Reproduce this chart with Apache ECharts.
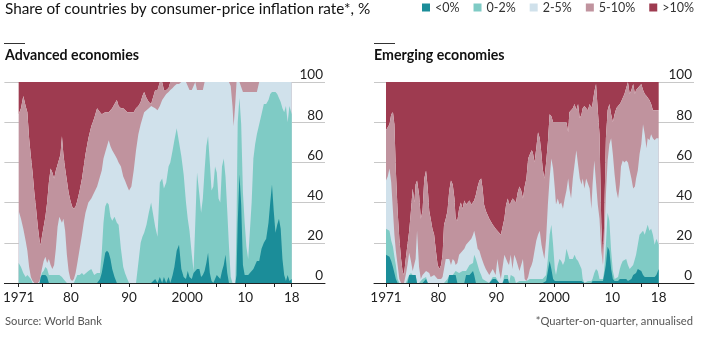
<!DOCTYPE html>
<html><head><meta charset="utf-8">
<script src="https://cdn.jsdelivr.net/npm/echarts@6/dist/echarts.min.js"></script>
<style>html,body{margin:0;padding:0;background:#fff}#c{width:724px;height:355px}</style>
</head><body><div id="c"></div>
<script>
// ---- data: cumulative share of countries (%) whose inflation is below each threshold ----
const categories = ['<0%', '0-2%', '2-5%', '5-10%', '>10%'];

const tickYears = [1971, 1975, 1980, 1985, 1990, 1995, 2000, 2005, 2010, 2015, 2018];
const labelYears = [1971, 1980, 1990, 2000, 2010, 2018];
const labelTexts = ['1971', '80', '90', '2000', '10', '18'];

// Advanced economies
const advYears = [1971.0,1971.4,1971.8,1972.2,1972.5,1972.8,1973.1,1973.4,1973.7,1974.0,
1974.3,1974.6,1974.8,1975.0,1975.3,1975.6,1975.9,1976.2,1976.5,1976.8,
1977.1,1977.4,1977.7,1978.0,1978.2,1978.45,1978.7,1979.0,1979.3,1979.6,
1979.9,1980.2,1980.5,1980.8,1981.1,1981.5,1981.9,1982.2,1982.5,1983.0,
1983.5,1984.0,1984.5,1985.0,1985.3,1985.6,1985.9,1986.2,1986.5,1986.8,
1987.1,1987.5,1987.9,1988.2,1988.6,1989.0,1989.3,1989.7,1990.0,1990.4,
1990.8,1991.2,1991.6,1992.0,1992.3,1992.6,1993.0,1993.4,1993.8,1994.1,
1994.5,1994.9,1995.3,1995.7,1996.0,1996.4,1996.8,1997.1,1997.5,1997.8,
1998.2,1998.6,1999.0,1999.4,1999.8,2000.1,2000.4,2000.8,2001.1,2001.4,
2001.7,2002.1,2002.4,2002.7,2003.0,2003.3,2003.6,2003.9,2004.2,2004.5,
2004.8,2005.1,2005.4,2005.7,2006.0,2006.3,2006.6,2006.9,2007.2,2007.5,
2007.8,2008.0,2008.3,2008.5,2008.7,2009.0,2009.3,2009.6,2009.9,2010.2,
2010.5,2010.8,2011.1,2011.4,2011.7,2012.0,2012.4,2012.8,2013.2,2013.6,
2014.0,2014.3,2014.6,2014.9,2015.2,2015.5,2015.8,2016.1,2016.4,2016.7,
2017.0,2017.3,2017.6,2018.0];
const advBelow0 = [0,0,0,0,0,0,0,0,0,0,
0,0,3,4,4,4,3,0,0,0,
0,0,0,0,0,0,0,0,0,0,
0,0,0,0,0,0,0,0,0,0,
0,0,0,2,5,10,15,16,15,12,
7,3,0,0,0,0,0,0,0,0,
0,0,0,0,0,0,0,0,0,0,
2,0,3,0,3,0,3,0,4,8,
16,19,7,3,2,6,3,2,5,6,
7,7,3,4,6,10,15,5,1,0,
2,4,3,2,6,9,14,5,0,0,
0,0,0,4,30,54,39,9,4,4,
4,4,6,7,9,11,11,17,20,22,
30,40,49,36,25,29,32,27,12,4,
1,4,1,2];
const advBelow2 = [10,8,5,3,4,4,2,0,0,0,
0,0,3,5,6,8,7,4,4,4,
4,4,4,4,4,3,2,1,0,0,
0,0,0,2,4,4,5,4,4,6,
7,4,5,5,15,30,38,40,39,33,
31,33,30,29,17,8,5,2,0,0,
0,0,10,20,23,25,29,35,40,40,
28,23,50,52,47,50,58,60,66,71,
77,70,63,54,40,32,26,14,6,30,
55,44,35,42,56,68,73,60,46,48,
58,55,42,40,58,62,53,36,18,3,
0,0,0,30,80,92,79,45,30,18,
12,12,40,62,69,74,79,84,89,89,
91,94,95,95,95,94,92,90,87,85,
88,80,88,84];
const advBelow5 = [36,32,27,21,16,8,3,1,0,0,
0,1,4,7,11,13,10,12,9,7,
9,17,28,33,33,30,32,26,14,6,
2,1,2,5,10,17,24,30,35,40,
42,45,48,53,56,62,65,68,71,68,
66,64,62,60,58,53,51,48,46,48,
56,66,74,79,82,85,86,87,88,88,
87,86,88,91,91,94,95,96,97,98,
99,99,100,100,100,100,96,96,96,100,
96,96,96,96,100,100,100,100,100,100,
100,100,100,100,100,100,100,100,100,98,
88,78,90,100,100,100,100,95,95,95,
95,95,95,95,95,95,100,100,100,100,
100,100,100,100,100,100,100,100,100,100,
100,100,100,100];
const advBelow10 = [84,87,93,88,85,72,63,55,45,37,
28,21,19,23,28,33,40,50,57,55,
52,56,59,62,64,73,64,57,51,45,
41,38,37,38,41,46,52,58,64,72,
78,82,87,85,84,84,85,85,85,86,
87,89,91,88,87,87,87,85,85,85,
85,87,88,90,93,95,92,90,89,92,
96,96,100,100,96,96,97,100,100,100,
100,100,100,100,100,100,100,100,100,100,
100,100,100,100,100,100,100,100,100,100,
100,100,100,100,100,100,100,100,100,100,
100,100,100,100,100,100,100,100,100,100,
100,100,100,100,100,100,100,100,100,100,
100,100,100,100,100,100,100,100,100,100,
100,100,100,100];

// Emerging economies
const emYears = [1971.0,1971.3,1971.6,1971.9,1972.2,1972.45,1972.7,1973.0,1973.3,1973.6,
1973.85,1974.1,1974.4,1974.7,1975.0,1975.3,1975.6,1975.9,1976.1,1976.35,
1976.7,1977.0,1977.3,1977.6,1977.9,1978.2,1978.45,1978.7,1979.0,1979.3,
1979.6,1979.9,1980.2,1980.5,1980.75,1981.0,1981.3,1981.6,1981.9,1982.2,
1982.5,1982.8,1983.0,1983.3,1983.6,1983.9,1984.2,1984.5,1984.8,1985.1,
1985.4,1985.7,1986.0,1986.2,1986.5,1986.8,1987.1,1987.4,1987.65,1987.9,
1988.2,1988.8,1989.4,1989.9,1990.2,1990.5,1990.8,1991.1,1991.4,1991.7,
1992.0,1992.2,1992.5,1992.8,1993.1,1993.4,1993.7,1994.0,1994.3,1994.6,
1994.9,1995.2,1995.5,1995.8,1996.1,1996.3,1996.6,1996.9,1997.2,1997.5,
1997.8,1998.0,1998.3,1998.6,1998.9,1999.2,1999.5,1999.8,2000.1,2000.3,
2000.6,2000.9,2001.2,2001.5,2001.8,2002.1,2002.4,2002.6,2002.9,2003.2,
2003.5,2003.8,2004.1,2004.4,2004.7,2004.9,2005.2,2005.5,2005.8,2006.1,
2006.4,2006.6,2006.9,2007.2,2007.5,2007.8,2008.1,2008.4,2008.6,2008.9,
2009.2,2009.5,2009.8,2010.1,2010.4,2010.7,2011.0,2011.3,2011.5,2011.8,
2012.1,2012.4,2012.7,2013.0,2013.3,2013.6,2013.9,2014.1,2014.4,2014.7,
2015.0,2015.3,2015.6,2015.9,2016.1,2016.4,2016.7,2017.0,2017.3,2017.6,
2018.0];
const emBelow0 = [14,14,13,11,8,5,2,0,0,0,
0,0,0,0,4,4,4,4,4,0,
0,0,0,0,2,0,0,0,0,0,
0,0,0,0,0,0,0,0,4,4,
4,4,4,0,0,0,0,0,4,4,
4,5,6,4,0,0,0,0,0,0,
0,0,2,2,2,0,0,0,2,2,
2,0,0,0,0,0,0,0,0,0,
0,0,0,0,0,0,0,0,0,0,
0,0,0,1,6,11,7,2,1,1,
1,1,1,1,1,1,1,1,1,1,
1,1,1,1,1,1,0,0,0,0,
0,1,1,1,1,1,1,1,4,9,
18,16,7,2,1,1,1,2,2,2,
2,2,1,1,2,4,4,5,7,7,
6,4,3,3,3,3,3,3,3,4,
7];
const emBelow2 = [27,27,26,21,18,13,9,2,0,0,
0,0,0,0,4,5,4,4,4,0,
0,0,2,2,3,0,0,0,0,0,
0,0,0,0,0,0,0,2,4,4,
4,4,6,6,5,5,6,6,6,6,
9,9,10,14,12,9,6,4,2,2,
1,0,3,3,3,0,0,0,4,4,
4,0,4,4,3,0,0,1,1,1,
1,1,1,2,2,2,2,2,2,2,
2,2,2,4,12,24,29,19,7,4,
9,12,11,9,11,17,14,12,12,12,
14,12,11,9,7,2,0,0,1,1,
1,2,5,7,6,2,2,2,6,19,
35,31,16,6,2,2,3,7,9,11,
11,12,9,7,8,9,12,14,19,24,
25,26,24,27,29,26,27,24,19,22,
19];
const emBelow5 = [51,53,57,50,36,24,16,9,2,0,
0,0,4,9,15,11,6,6,12,26,
8,2,4,5,6,6,5,3,3,4,
3,2,2,2,3,7,12,12,12,9,
12,11,9,10,14,15,16,17,19,20,
21,22,24,26,22,17,16,13,11,9,
7,4,7,4,12,6,2,8,14,14,
10,9,14,7,14,12,9,6,9,12,
2,1,3,7,9,11,16,21,24,26,
19,16,12,22,39,52,62,57,47,39,
42,39,40,37,42,46,52,47,42,52,
59,66,59,52,49,52,47,52,52,47,
37,49,61,50,39,32,16,9,19,44,
61,69,72,64,54,46,42,49,58,61,
60,61,60,56,52,47,48,52,56,64,
69,79,74,67,72,71,74,72,71,72,
72];
const emBelow10 = [76,76,79,84,85,79,56,36,22,12,
6,4,12,19,26,36,47,40,49,51,
44,32,36,52,56,47,36,32,27,24,
16,9,7,9,14,29,32,36,46,51,
49,42,32,31,37,40,37,41,39,39,
41,39,39,41,44,48,51,52,47,39,
36,32,29,27,26,25,24,24,32,39,
42,39,40,42,41,40,45,48,46,42,
48,52,62,64,66,65,60,67,75,72,
64,57,52,60,70,84,83,80,80,80,
80,80,80,80,80,80,75,85,86,87,
89,86,89,82,84,87,88,87,86,89,
87,89,95,99,86,74,30,10,30,72,
86,89,84,80,84,87,88,89,90,92,
94,97,100,94,96,99,94,96,97,97,
99,96,94,93,93,91,89,86,86,86,
86];

// ---- presentation ----
const bandColors = ['#1b8d99', '#7fcbc5', '#d0e1eb', '#c0939e', '#9e3b50'];
const FONT = 'Lato, "Open Sans", sans-serif';

function labelFor(v) {
  for (let i = 0; i < labelYears.length; i++) if (Math.abs(labelYears[i] - v) < 0.01) return labelTexts[i];
  return '';
}

function xAxisCfg(gi, min, max) {
  return {
    type: 'value', gridIndex: gi, min: min, max: max, z: 5,
    axisLine: { show: true, onZero: false, lineStyle: { color: '#222', width: 1 } },
    axisTick: { show: true, length: 4, customValues: tickYears, lineStyle: { color: '#222' } },
    axisLabel: { customValues: labelYears, formatter: labelFor, margin: 8, fontSize: 13.5, color: '#222', fontFamily: FONT },
    splitLine: { show: false }
  };
}
function yAxisCfg(gi) {
  return {
    type: 'value', gridIndex: gi, position: 'right', min: 0, max: 100, interval: 20,
    axisLine: { show: false }, axisTick: { show: false },
    axisLabel: { inside: true, align: 'right', verticalAlign: 'bottom', margin: 2, fontSize: 13.5, color: '#222', fontFamily: FONT, lineHeight: 14 },
    splitLine: { lineStyle: { color: '#c8c8c8', width: 1 } }
  };
}

// Each band is drawn as an area up to the cumulative share below its upper threshold;
// narrower (lower) bands are painted over wider ones. The >10% band fills from the
// 10% boundary up to the top of the axis.
const series = [];
function addPanel(years, b0, b2, b5, b10, gi) {
  const layers = [
    { k: 4, vals: b10, origin: 'end' },
    { k: 3, vals: b10, origin: 'start' },
    { k: 2, vals: b5, origin: 'start' },
    { k: 1, vals: b2, origin: 'start' },
    { k: 0, vals: b0, origin: 'start' }
  ];
  layers.forEach(L => {
    series.push({
      name: categories[L.k], type: 'line', xAxisIndex: gi, yAxisIndex: gi,
      symbol: 'none', showSymbol: false, silent: true,
      lineStyle: { width: 0 },
      itemStyle: { color: bandColors[L.k] },
      areaStyle: { color: bandColors[L.k], opacity: 1, origin: L.origin },
      data: years.map((y, i) => [y, L.vals[i]])
    });
  });
}
addPanel(advYears, advBelow0, advBelow2, advBelow5, advBelow10, 0);
addPanel(emYears, emBelow0, emBelow2, emBelow5, emBelow10, 1);

const chart = echarts.init(document.getElementById('c'), null, { renderer: 'canvas' });
chart.setOption({
  animation: false,
  backgroundColor: '#fff',
  textStyle: { fontFamily: FONT },
  title: [
    { text: 'Share of countries by consumer-price inflation rate*, %', left: 5, top: 2, padding: 0,
      textStyle: { fontSize: 15.3, fontWeight: 'normal', color: '#111', fontFamily: FONT } },
    { text: 'Advanced economies', left: 5, top: 48, padding: 0,
      textStyle: { fontSize: 14.2, fontWeight: 'bold', color: '#111', fontFamily: FONT } },
    { text: 'Emerging economies', left: 374, top: 48, padding: 0,
      textStyle: { fontSize: 14.2, fontWeight: 'bold', color: '#111', fontFamily: FONT } },
    { text: 'Source: World Bank', left: 5, top: 316, padding: 0,
      textStyle: { fontSize: 11.2, fontWeight: 'normal', color: '#555', fontFamily: FONT } },
    { text: '*Quarter-on-quarter, annualised', right: 31, top: 316, padding: 0,
      textStyle: { fontSize: 11.2, fontWeight: 'normal', color: '#555', fontFamily: FONT } }
  ],
  legend: {
    data: categories, left: 422, top: 1, padding: 0, icon: 'rect',
    itemWidth: 8, itemHeight: 8, itemGap: 14, selectedMode: false,
    textStyle: { fontSize: 12.5, color: '#333', fontFamily: FONT }
  },
  graphic: [
    { type: 'line', shape: { x1: 4, y1: 43.5, x2: 25, y2: 43.5 }, style: { stroke: '#333', lineWidth: 1 } },
    { type: 'line', shape: { x1: 374, y1: 43.5, x2: 395, y2: 43.5 }, style: { stroke: '#333', lineWidth: 1 } }
  ],
  grid: [
    { left: 4, width: 321, top: 82, height: 201 },
    { left: 374, width: 320, top: 82, height: 201 }
  ],
  xAxis: [xAxisCfg(0, 1968.542, 2023.725), xAxisCfg(1, 1968.932, 2024.085)],
  yAxis: [yAxisCfg(0), yAxisCfg(1)],
  series: series
});
</script>
</body></html>
